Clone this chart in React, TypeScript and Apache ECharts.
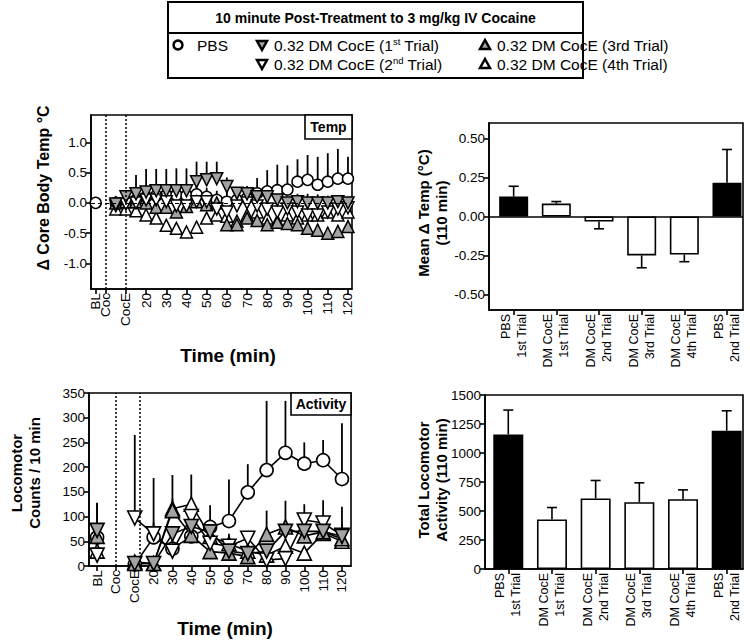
import { useEffect, useRef } from 'react';
import * as echarts from 'echarts';

const FONT = '"Liberation Sans", Arial, Helvetica, sans-serif';

// ---------------- Legend ----------------
const legendTitle = '10 minute Post-Treatment to 3 mg/kg IV Cocaine';

// ---------------- Temperature panel (Δ core body temp, °C) ----------------
const tempTimes = [-5, 5, 10, 15, 20, 25, 30, 35, 40, 45, 50, 55, 60, 65, 70, 75, 80, 85, 90, 95, 100, 105, 110, 115, 120];
const tempPBS = [0, 0.0, 0.02, 0.05, 0.1, 0.12, 0.13, 0.13, 0.12, 0.14, 0.1, 0.05, 0.02, 0.05, 0.08, 0.16, 0.19, 0.21, 0.22, 0.35, 0.38, 0.3, 0.35, 0.4, 0.4];
const tempPBSErr = [0, 0.05, 0.06, 0.08, 0.1, 0.1, 0.12, 0.12, 0.12, 0.15, 0.15, 0.15, 0.18, 0.2, 0.2, 0.25, 0.35, 0.42, 0.4, 0.37, 0.41, 0.46, 0.47, 0.49, 0.36];
const temp1st = [null, -0.02, 0.1, 0.15, 0.18, 0.2, 0.2, 0.2, 0.2, 0.35, 0.38, 0.4, 0.27, 0.16, 0.15, 0.1, 0.1, 0.05, 0.0, 0.02, 0.0, 0.0, 0.0, 0.02, 0.0];
const temp1stErr = [0, 0.05, 0.1, 0.31, 0.38, 0.36, 0.36, 0.37, 0.37, 0.33, 0.3, 0.28, 0.15, 0.1, 0.12, 0.12, 0.1, 0.1, 0.1, 0.13, 0.15, 0.14, 0.12, 0.1, 0.1];
const temp2nd = [null, -0.05, -0.02, 0.0, 0.05, 0.05, 0.02, -0.05, -0.05, 0.02, 0.02, -0.1, -0.15, -0.05, 0.0, -0.05, -0.1, -0.15, -0.1, -0.15, -0.2, -0.2, -0.15, -0.1, -0.08];
const temp2ndErr = [0, 0.05, 0.06, 0.08, 0.08, 0.08, 0.08, 0.1, 0.1, 0.1, 0.1, 0.1, 0.1, 0.08, 0.08, 0.08, 0.1, 0.1, 0.1, 0.1, 0.1, 0.1, 0.1, 0.1, 0.1];
const temp3rd = [null, 0.0, 0.02, 0.02, 0.0, -0.07, -0.07, -0.15, -0.06, 0.02, -0.03, 0.0, -0.36, -0.36, -0.25, -0.29, -0.36, -0.32, -0.34, -0.36, -0.42, -0.45, -0.5, -0.47, -0.39];
const temp3rdErr = [0, 0.05, 0.05, 0.06, 0.06, 0.07, 0.07, 0.08, 0.08, 0.08, 0.08, 0.08, 0.1, 0.1, 0.1, 0.1, 0.1, 0.1, 0.1, 0.1, 0.1, 0.1, 0.1, 0.1, 0.1];
const temp4th = [null, -0.1, -0.1, -0.13, -0.2, -0.25, -0.37, -0.42, -0.48, -0.4, -0.25, -0.2, -0.22, -0.3, -0.2, -0.15, -0.25, -0.3, -0.2, -0.25, -0.2, -0.2, -0.15, -0.2, -0.15];
const temp4thErr = [0, 0.05, 0.05, 0.06, 0.06, 0.07, 0.07, 0.08, 0.08, 0.08, 0.08, 0.08, 0.08, 0.08, 0.08, 0.08, 0.1, 0.1, 0.1, 0.1, 0.1, 0.1, 0.1, 0.1, 0.1];
const tempTickValues = [-5, 0, 10, 20, 30, 40, 50, 60, 70, 80, 90, 100, 110, 120];
const tempTickLabels = ['BL', 'Coc', 'CocE', '20', '30', '40', '50', '60', '70', '80', '90', '100', '110', '120'];
const tempYTicks = [-1, -0.5, 0, 0.5, 1];
const tempDividers = [0, 10];

// ---------------- Activity panel (counts / 10 min) ----------------
const actTimes = [-10, 10, 20, 30, 40, 50, 60, 70, 80, 90, 100, 110, 120];
const actPBS = [58, 3, 58, 35, 60, 79, 91, 149, 194, 229, 207, 214, 176];
const actPBSErr = [70, 5, 30, 20, 25, 44, 84, 57, 140, 105, 43, 41, 113];
const act1st = [72, 5, 5, 65, 80, 69, 30, 25, 30, 70, 70, 70, 60];
const act1stErr = [55, 3, 5, 10, 20, 15, 10, 10, 10, 20, 20, 25, 20];
const act2nd = [22, 97, 65, 30, 100, 46, 40, 56, 12, 15, 93, 87, 62];
const act2ndErr = [5, 168, 113, 10, 20, 10, 10, 15, 10, 10, 32, 46, 58];
const act3rd = [60, 5, 5, 112, 62, 29, 26, 19, 64, 79, 61, 69, 55];
const act3rdErr = [10, 3, 3, 72, 20, 10, 10, 10, 48, 53, 30, 30, 30];
const act4th = [30, 8, 5, 116, 125, 60, 45, 30, 22, 40, 26, 66, 50];
const act4thErr = [8, 3, 3, 20, 60, 20, 20, 10, 10, 15, 10, 20, 20];
const actTickValues = [-10, 0, 10, 20, 30, 40, 50, 60, 70, 80, 90, 100, 110, 120];
const actTickLabels = ['BL', 'Coc', 'CocE', '20', '30', '40', '50', '60', '70', '80', '90', '100', '110', '120'];
const actDividers = [0, 12.5];

// ---------------- Bar panels ----------------
const barCategories = ['PBS\n1st Trial', 'DM CocE\n1st Trial', 'DM CocE\n2nd Trial', 'DM CocE\n3rd Trial', 'DM CocE\n4th Trial', 'PBS\n2nd Trial'];
const meanTemp = [0.128, 0.083, -0.032, -0.25, -0.244, 0.216];
const meanTempErr = [0.066, 0.013, 0.047, 0.079, 0.046, 0.214];
const meanTempTicks = [-0.5, -0.25, 0, 0.25, 0.5];
const totalAct = [1160, 427, 608, 576, 602, 1192];
const totalActErr = [210, 103, 155, 167, 80, 172];

// ---------------- styles ----------------
const GRAY = '#a3a3a3';
const groupStyles: Record<string, { symbol: string; rotate: number; fill: string; size: number }> = {
  PBS: { symbol: 'circle', rotate: 0, fill: '#fff', size: 11 },
  T1: { symbol: 'triangle', rotate: 180, fill: GRAY, size: 12 },
  T2: { symbol: 'triangle', rotate: 180, fill: '#fff', size: 12 },
  T3: { symbol: 'triangle', rotate: 0, fill: GRAY, size: 12 },
  T4: { symbol: 'triangle', rotate: 0, fill: '#fff', size: 12 },
};

const labelOf = (vals: number[], labels: string[]) => (v: number) => {
  const i = vals.findIndex((x) => Math.abs(x - v) < 1e-6);
  return i >= 0 ? labels[i] : '';
};

const LW = 1.6;
const axisLineStyle = { color: '#000', width: LW };

function makeAxis(extra: any, labelExtra: any = {}, tickExtra: any = {}) {
  return {
    type: 'value',
    axisLine: { show: true, onZero: false, lineStyle: axisLineStyle },
    axisTick: { show: true, length: 5, lineStyle: axisLineStyle, ...tickExtra },
    axisLabel: {
      color: '#000',
      fontFamily: FONT,
      fontSize: 13.5,
      margin: 4,
      showMinLabel: true,
      showMaxLabel: true,
      hideOverlap: false,
      ...labelExtra,
    },
    splitLine: { show: false },
    ...extra,
  };
}

function lineErr(params: any, api: any) {
  const x = api.value(0);
  const y = api.value(1);
  const e = api.value(2);
  if (y == null || isNaN(y)) return null;
  const p0 = api.coord([x, y]);
  const p1 = api.coord([x, y + e]);
  return {
    type: 'line',
    shape: { x1: p0[0], y1: p0[1], x2: p1[0], y2: p1[1] },
    style: { stroke: '#000', lineWidth: 1.8 },
  };
}

function barErr(params: any, api: any) {
  const x = api.value(0);
  const y = api.value(1);
  const e = api.value(2);
  const end = y >= 0 ? y + e : y - e;
  const p0 = api.coord([x, y]);
  const p1 = api.coord([x, end]);
  return {
    type: 'group',
    children: [
      { type: 'line', shape: { x1: p0[0], y1: p0[1], x2: p1[0], y2: p1[1] }, style: { stroke: '#000', lineWidth: LW } },
      { type: 'line', shape: { x1: p1[0] - 5, y1: p1[1], x2: p1[0] + 5, y2: p1[1] }, style: { stroke: '#000', lineWidth: LW } },
    ],
  };
}

function buildOption() {
  const series: any[] = [];

  // divider / reference lines (drawn first)
  series.push({
    type: 'line',
    xAxisIndex: 0,
    yAxisIndex: 0,
    data: [],
    z: 0,
    silent: true,
    markLine: {
      silent: true,
      symbol: 'none',
      label: { show: false },
      animation: false,
      data: [
        ...tempDividers.map((v) => ({ xAxis: v, lineStyle: { color: '#000', width: 1.5, type: [2, 2] } })),
        { yAxis: 0, lineStyle: { color: '#000', width: 1, type: [4, 3] } },
      ],
    },
  });
  series.push({
    type: 'line',
    xAxisIndex: 1,
    yAxisIndex: 1,
    data: [],
    z: 0,
    silent: true,
    markLine: {
      silent: true,
      symbol: 'none',
      label: { show: false },
      animation: false,
      data: actDividers.map((v) => ({ xAxis: v, lineStyle: { color: '#000', width: 1.5, type: [2, 2] } })),
    },
  });

  const tempGroups: [string, (number | null)[], number[]][] = [
    ['PBS', tempPBS, tempPBSErr],
    ['T4', temp4th, temp4thErr],
    ['T3', temp3rd, temp3rdErr],
    ['T2', temp2nd, temp2ndErr],
    ['T1', temp1st, temp1stErr],
  ];
  tempGroups.forEach(([key, vals, errs]) => {
    const st = groupStyles[key];
    const pts = tempTimes.map((t, i) => [t, vals[i], errs[i]]).filter((p) => p[1] != null);
    series.push({
      type: 'custom',
      xAxisIndex: 0,
      yAxisIndex: 0,
      renderItem: lineErr,
      encode: { x: 0, y: 1 },
      data: pts,
      silent: true,
    });
    series.push({
      type: 'scatter',
      xAxisIndex: 0,
      yAxisIndex: 0,
      symbol: st.symbol,
      symbolRotate: st.rotate,
      symbolSize: st.size,
      itemStyle: { color: st.fill, borderColor: '#000', borderWidth: 1.5, opacity: 1 },
      data: pts.map((p) => [p[0], p[1]]),
      silent: true,
    });
  });

  const actGroups: [string, number[], number[]][] = [
    ['PBS', actPBS, actPBSErr],
    ['T4', act4th, act4thErr],
    ['T3', act3rd, act3rdErr],
    ['T2', act2nd, act2ndErr],
    ['T1', act1st, act1stErr],
  ];
  actGroups.forEach(([key, vals, errs]) => {
    const st = groupStyles[key];
    const pts = actTimes.map((t, i) => [t, vals[i], errs[i]]);
    const lineData: any[] = [];
    actTimes.forEach((t, i) => {
      if (i === 1) lineData.push([0, null]); // break between baseline and post-treatment bins
      lineData.push([t, vals[i]]);
    });
    series.push({
      type: 'custom',
      xAxisIndex: 1,
      yAxisIndex: 1,
      renderItem: lineErr,
      encode: { x: 0, y: 1 },
      data: pts,
      silent: true,
    });
    series.push({
      type: 'line',
      xAxisIndex: 1,
      yAxisIndex: 1,
      symbol: st.symbol,
      symbolRotate: st.rotate,
      symbolSize: st.size + 2,
      showAllSymbol: true,
      connectNulls: false,
      lineStyle: { color: '#000', width: 1.6 },
      itemStyle: { color: st.fill, borderColor: '#000', borderWidth: 1.6 },
      data: lineData,
      silent: true,
    });
  });

  // bar panels
  const fillOf = (c: string) => (c.startsWith('PBS') ? '#000' : '#fff');
  series.push({
    type: 'bar',
    xAxisIndex: 2,
    yAxisIndex: 2,
    barWidth: 29,
    data: meanTemp.map((v, i) => ({ value: [i, v], itemStyle: { color: fillOf(barCategories[i]) } })),
    itemStyle: { borderColor: '#000', borderWidth: LW },
    silent: true,
    markLine: {
      silent: true,
      symbol: 'none',
      label: { show: false },
      animation: false,
      data: [{ yAxis: 0, lineStyle: { color: '#000', width: LW, type: 'solid' } }],
    },
  });
  series.push({
    type: 'custom',
    xAxisIndex: 2,
    yAxisIndex: 2,
    renderItem: barErr,
    encode: { x: 0, y: 1 },
    data: meanTemp.map((v, i) => [i, v, meanTempErr[i]]),
    silent: true,
  });
  series.push({
    type: 'bar',
    xAxisIndex: 3,
    yAxisIndex: 3,
    barWidth: 30,
    data: totalAct.map((v, i) => ({ value: [i, v], itemStyle: { color: fillOf(barCategories[i]) } })),
    itemStyle: { borderColor: '#000', borderWidth: LW },
    silent: true,
  });
  series.push({
    type: 'custom',
    xAxisIndex: 3,
    yAxisIndex: 3,
    renderItem: barErr,
    encode: { x: 0, y: 1 },
    data: totalAct.map((v, i) => [i, v, totalActErr[i]]),
    silent: true,
  });

  const gridBase = { show: true, borderColor: '#000', borderWidth: LW, backgroundColor: 'transparent', containLabel: false };
  const barIdx = barCategories.map((_, i) => i);

  const sup = { fontSize: 9.5, verticalAlign: 'top', fontFamily: FONT, lineHeight: 16 };
  const legendText = (x: number, y: number, text: string) => ({
    type: 'text',
    x,
    y,
    style: {
      text,
      fill: '#000',
      fontFamily: FONT,
      fontSize: 15.5,
      lineHeight: 18,
      textAlign: 'left',
      textVerticalAlign: 'middle',
      rich: { sup },
    },
  });
  const tri = (cx: number, cy: number, down: boolean, fill: string) => ({
    type: 'polygon',
    shape: {
      points: down
        ? [[cx - 5, cy - 4], [cx + 5, cy - 4], [cx, cy + 5]]
        : [[cx - 5, cy + 4], [cx + 5, cy + 4], [cx, cy - 5]],
    },
    style: { fill, stroke: '#000', lineWidth: 2.5 },
  });
  const title = (x: number, y: number, text: string, size: number, rotate = false) => ({
    type: 'text',
    x,
    y,
    rotation: rotate ? Math.PI / 2 : 0,
    style: {
      text,
      fill: '#000',
      fontFamily: FONT,
      fontWeight: 'bold',
      fontSize: size,
      lineHeight: size + 3,
      textAlign: 'center',
      textVerticalAlign: 'middle',
    },
  });
  const boxLabel = (x: number, y: number, w: number, h: number, text: string) => [
    { type: 'rect', z: 100, shape: { x, y, width: w, height: h }, style: { fill: '#fff', stroke: '#000', lineWidth: LW } },
    {
      type: 'text',
      z: 101,
      x: x + w / 2,
      y: y + h / 2,
      style: { text, fill: '#000', fontFamily: FONT, fontWeight: 'bold', fontSize: 14, textAlign: 'center', textVerticalAlign: 'middle' },
    },
  ];

  const row1 = 45;
  const row2 = 64;
  const graphic: any[] = [
    { type: 'rect', shape: { x: 168, y: 2, width: 415, height: 76 }, style: { fill: 'none', stroke: '#000', lineWidth: 2 } },
    { type: 'line', shape: { x1: 168, y1: 33, x2: 583, y2: 33 }, style: { stroke: '#000', lineWidth: 2 } },
    title(375.5, 18, legendTitle, 14),
    { type: 'circle', shape: { cx: 178, cy: row1, r: 4.5 }, style: { fill: '#fff', stroke: '#000', lineWidth: 2.5 } },
    legendText(197, row1, 'PBS'),
    tri(262, row1, true, GRAY),
    legendText(274, row1, '0.32 DM CocE (1{sup|st} Trial)'),
    tri(262, row2, true, '#fff'),
    legendText(274, row2, '0.32 DM CocE (2{sup|nd} Trial)'),
    tri(485, row1, false, GRAY),
    legendText(497, row1, '0.32 DM CocE (3rd Trial)'),
    tri(485, row2, false, '#fff'),
    legendText(497, row2, '0.32 DM CocE (4th Trial)'),
    ...boxLabel(305, 115, 47, 24, 'Temp'),
    ...boxLabel(291, 393, 60, 22, 'Activity'),
    title(43, 188, 'Δ Core Body Temp °C', 16, true),
    title(25, 473, 'Locomotor\nCounts / 10 min', 15, true),
    title(228, 355, 'Time (min)', 19),
    title(225, 628, 'Time (min)', 19),
    title(432, 213, 'Mean Δ Temp (°C)\n(110 min)', 15, true),
    title(432, 480, 'Total Locomotor\nActivity (110 min)', 15, true),
  ];

  // temp x-axis labels are split over two coincident axes so that the
  // closely spaced "BL" / "Coc" labels are both kept
  const tempLabelFmt = labelOf(tempTickValues, tempTickLabels);
  const tempMainLabelVals = tempTickValues.filter((_, i) => i !== 1);
  const tempSecondLabelVals = [tempTickValues[1]];

  return {
    animation: false,
    backgroundColor: '#fff',
    grid: [
      { ...gridBase, left: 91, top: 115, width: 261, height: 174 },
      { ...gridBase, left: 89, top: 393, width: 262, height: 173 },
      { ...gridBase, left: 489, top: 123, width: 254, height: 187 },
      { ...gridBase, left: 485, top: 395, width: 258, height: 174 },
    ],
    xAxis: [
      makeAxis(
        { gridIndex: 0, min: -7.3, max: 122, position: 'bottom' },
        { customValues: tempMainLabelVals, rotate: 90, formatter: tempLabelFmt },
        { customValues: tempTickValues }
      ),
      makeAxis(
        { gridIndex: 1, min: -14.3, max: 124.8 },
        { customValues: actTickValues, rotate: 90, formatter: labelOf(actTickValues, actTickLabels) },
        { customValues: actTickValues }
      ),
      makeAxis(
        { gridIndex: 2, min: -0.578, max: 5.375 },
        { customValues: barIdx, rotate: 90, fontSize: 12.5, lineHeight: 16, formatter: (v: number) => barCategories[Math.round(v)] ?? '' },
        { customValues: barIdx }
      ),
      makeAxis(
        { gridIndex: 3, min: -0.533, max: 5.373 },
        { customValues: barIdx, rotate: 90, fontSize: 12.5, lineHeight: 16, formatter: (v: number) => barCategories[Math.round(v)] ?? '' },
        { customValues: barIdx }
      ),
      {
        ...makeAxis(
          { gridIndex: 0, min: -7.3, max: 122, position: 'bottom', offset: 0 },
          { customValues: tempSecondLabelVals, rotate: 90, formatter: tempLabelFmt },
          { customValues: tempSecondLabelVals }
        ),
        axisLine: { show: false },
        axisTick: { show: false, customValues: tempSecondLabelVals },
      },
    ],
    yAxis: [
      makeAxis(
        { gridIndex: 0, min: -1.42, max: 1.45 },
        { customValues: tempYTicks, formatter: (v: number) => v.toFixed(1) },
        { customValues: tempYTicks }
      ),
      makeAxis({ gridIndex: 1, min: 0, max: 350, interval: 50 }, { formatter: (v: number) => String(v) }),
      makeAxis(
        { gridIndex: 2, min: -0.6, max: 0.6 },
        { customValues: meanTempTicks, formatter: (v: number) => v.toFixed(2) },
        { customValues: meanTempTicks }
      ),
      makeAxis({ gridIndex: 3, min: 0, max: 1500, interval: 250 }, { formatter: (v: number) => String(v) }),
    ],
    series,
    graphic,
  };
}

export default function App() {
  const ref = useRef<HTMLDivElement>(null);
  useEffect(() => {
    if (!ref.current) return;
    const chart = echarts.init(ref.current, null, { renderer: 'svg' });
    chart.setOption(buildOption() as any);
    return () => chart.dispose();
  }, []);
  return (
    <div
      ref={ref}
      style={{ position: 'absolute', left: 0, top: 0, width: 750, height: 642, background: '#fff' }}
    />
  );
}
